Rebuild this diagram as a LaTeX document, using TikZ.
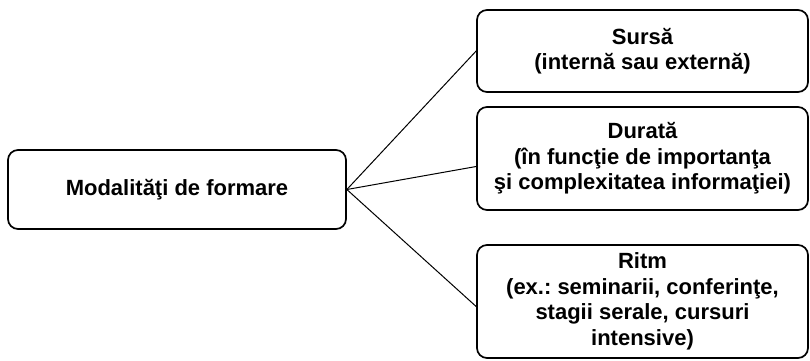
\documentclass[tikz,border=0pt]{standalone}
\usepackage{fontspec}
\setmainfont{Liberation Sans}
\usepackage{tikz}
\usetikzlibrary{positioning, calc}
\frenchspacing

\begin{document}
\begin{tikzpicture}[x=1pt, y=1pt,
  box/.style={rectangle, rounded corners=10pt, draw, line width=1.7pt, align=center, inner sep=2pt, font=\bfseries\fontsize{22}{25.5}\selectfont},
  link/.style={line width=1pt}]
\useasboundingbox (0,0) rectangle (810,360);
\node[box, minimum width=338pt, minimum height=79pt] (mod) at (177,170.5) {Modalităţi de formare};
\node[box, minimum width=331pt, minimum height=82pt] (sursa) at (642.5,309) {Sursă\\(internă sau externă)};
\node[box, minimum width=331pt, minimum height=103pt] (durata) at (642.5,201.5) {Durată\\(în funcţie de importanţa\\şi complexitatea informaţiei)};
\node[box, minimum width=331pt, minimum height=113pt] (ritm) at (642.5,58.5) {Ritm\\(ex.: seminarii, conferinţe,\\stagii serale, cursuri\\intensive)};
\draw[link] (mod.east) -- (sursa.west);
\draw[link] (mod.east) -- ($(durata.west)+(0,-8)$);
\draw[link] (mod.east) -- ($(ritm.west)+(0,-5)$);
\end{tikzpicture}
\end{document}
